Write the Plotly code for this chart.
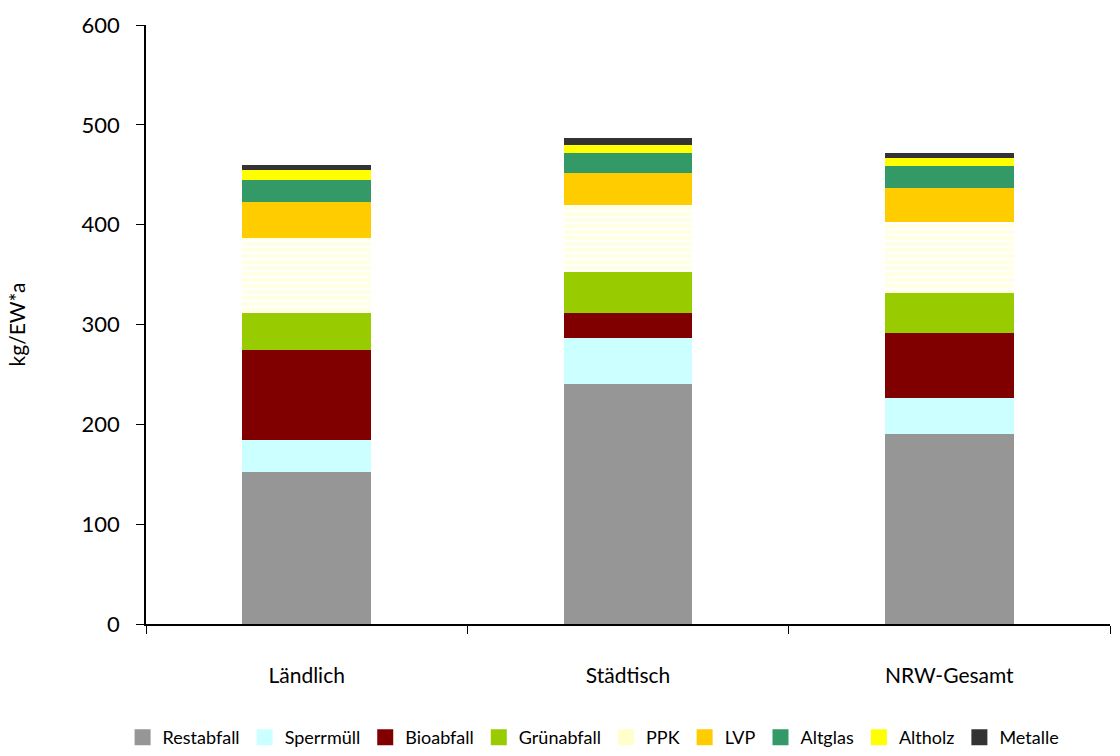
import plotly.graph_objects as go

categories = ["Ländlich", "Städtisch", "NRW-Gesamt"]
series_names = ["Restabfall", "Sperrmüll", "Bioabfall", "Grünabfall", "PPK", "LVP", "Altglas", "Altholz", "Metalle"]
restabfall = [152, 240, 190]
sperrmuell = [32, 46, 36]
bioabfall = [90, 26, 65]
gruenabfall = [38, 41, 41]
ppk = [75, 67, 71]
lvp = [36, 32, 34]
altglas = [22, 20, 22]
altholz = [10, 8, 8]
metalle = [5, 7, 5]
colors = ["#969696", "#CCFFFF", "#800000", "#99CC00", "#FFFFCC", "#FFCC00", "#339966", "#FFFF00", "#333333"]
values = [restabfall, sperrmuell, bioabfall, gruenabfall, ppk, lvp, altglas, altholz, metalle]

fig = go.Figure()
for name, vals, col in zip(series_names, values, colors):
    marker = dict(color=col, line=dict(width=0))
    if name == "PPK":
        marker["pattern"] = dict(shape="-", bgcolor="#FFFFFF", fgcolor="#FFFFC4", size=6, solidity=0.6)
    fig.add_trace(go.Bar(name=name, x=categories, y=vals, marker=marker, showlegend=False))

# legend-only entries with larger square swatches
for name, col in zip(series_names, colors):
    fig.add_trace(go.Scatter(x=[None], y=[None], mode="markers", name=name,
                             marker=dict(symbol="square", size=16, color=col)))

fig.update_layout(
    barmode="stack",
    bargap=0.6,
    width=1120, height=756,
    margin=dict(l=146, r=10, t=25, b=132),
    plot_bgcolor="white", paper_bgcolor="white",
    font=dict(family="Lato, sans-serif", size=21, color="black"),
    showlegend=True,
    legend=dict(orientation="h", xref="container", x=0.53, xanchor="center",
                yref="container", y=0.0, yanchor="bottom",
                font=dict(size=18), traceorder="normal", itemwidth=30,
                tracegroupgap=0),
    yaxis=dict(range=[0, 600], dtick=100, showgrid=False, zeroline=False,
               showline=True, linecolor="black", linewidth=1.5,
               ticks="outside", ticklen=8, tickcolor="black",
               ticklabelstandoff=12, tickfont=dict(size=22),
               title=dict(text="kg/EW*a", font=dict(size=21), standoff=50)),
    xaxis=dict(showgrid=False, showline=True, linecolor="black", linewidth=1.5,
               ticks="outside", ticklen=8, tickcolor="black", tickson="boundaries",
               ticklabelstandoff=32, tickfont=dict(size=21)),
)

fig.write_html("out.html")
